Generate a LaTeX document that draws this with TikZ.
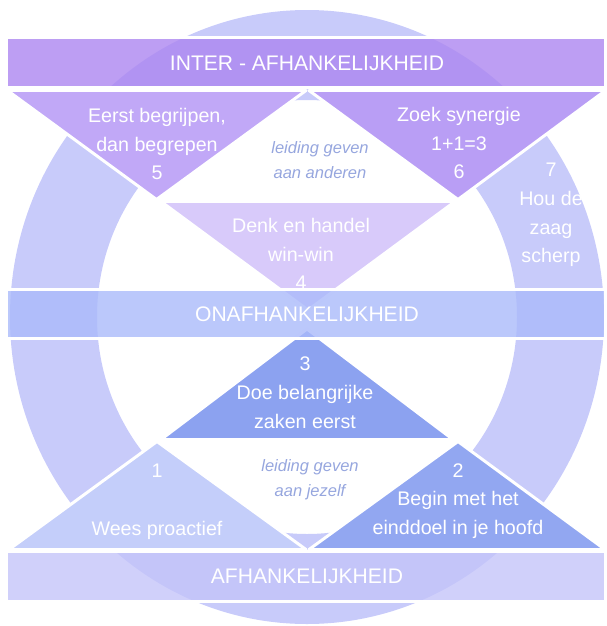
\documentclass[tikz,border=0pt]{standalone}
\usepackage{fontspec}
\setmainfont{Liberation Sans}
\usetikzlibrary{positioning}

\definecolor{ringcol}{RGB}{200,203,250}
\definecolor{intercol}{RGB}{172,134,240}
\definecolor{onafcol}{RGB}{170,186,250}
\definecolor{afhcol}{RGB}{196,196,249}
\definecolor{fivecol}{RGB}{193,168,247}
\definecolor{sixcol}{RGB}{185,158,245}
\definecolor{fourcol}{RGB}{216,202,250}
\definecolor{threecol}{RGB}{140,162,240}
\definecolor{onecol}{RGB}{196,206,250}
\definecolor{twocol}{RGB}{146,167,241}
\definecolor{leadcol}{RGB}{150,166,222}

\begin{document}
\begin{tikzpicture}[x=0.02cm,y=-0.02cm,
    band/.style={draw=white,line width=1.7pt,fill opacity=0.8},
    tri/.style={draw=white,line width=1.7pt,line join=round},
    habit/.style={text=white,align=center,font=\fontsize{11.2}{16.4}\selectfont},
    title/.style={text=white,font=\fontsize{12}{14}\selectfont},
    lead/.style={text=leadcol,align=center,font=\fontsize{9.4}{14.2}\selectfont\itshape}]
    \useasboundingbox (0,0) rectangle (606,626);

    % ring
    \fill[ringcol,even odd rule] (307,317) ellipse [x radius=297,y radius=307]
        (307,317) ellipse [x radius=210,y radius=217];

    % triangles
    \filldraw[tri,fill=fourcol] (161,201.5) -- (455,201.5) -- (308,310) -- cycle;
    \filldraw[tri,fill=fivecol] (7.5,90.5) -- (306,90.5) -- (156.5,199.5) -- cycle;
    \filldraw[tri,fill=sixcol] (309,90.5) -- (605.5,90.5) -- (458,199.5) -- cycle;
    \filldraw[tri,fill=threecol] (161,439.5) -- (453,439.5) -- (307,329) -- cycle;
    \filldraw[tri,fill=onecol] (9,549.5) -- (306,549.5) -- (157,441.5) -- cycle;
    \filldraw[tri,fill=twocol] (309,549.5) -- (605,549.5) -- (458,441.5) -- cycle;

    % bands
    \filldraw[band,fill=intercol] (6.5,37.5) rectangle (605.5,87.5);
    \filldraw[band,fill=onafcol] (6.5,289.5) rectangle (605.5,338.5);
    \filldraw[band,fill=afhcol] (6.5,551.5) rectangle (605.5,601.5);

    \node[title] (inter) at (307,63) {INTER - AFHANKELIJKHEID};
    \node[title] (onaf) at (307,314) {ONAFHANKELIJKHEID};
    \node[title] (afh) at (307,576) {AFHANKELIJKHEID};

    \node[habit] (habit5) at (157,144) {Eerst begrijpen,\\dan begrepen\\5};
    \node[habit] (habit6) at (459,143) {Zoek synergie\\1+1=3\\6};
    \node[habit] (habit4) at (301,254) {Denk en handel\\win-win\\4};
    \node[habit] (habit7) at (551,215) {7\\Hou de\\zaag\\scherp};
    \node[habit] (habit3) at (305,393) {3\\Doe belangrijke\\zaken eerst};
    \node[habit] (habit1) at (157,502) {1\\[16.4pt]Wees proactief};
    \node[habit] (habit2) at (458,501) {2\\Begin met het\\einddoel in je hoofd};

    \node[lead] (others) at (320,160) {leiding geven\\aan anderen};
    \node[lead] (self) at (310,480) {leiding geven\\aan jezelf};
\end{tikzpicture}
\end{document}
